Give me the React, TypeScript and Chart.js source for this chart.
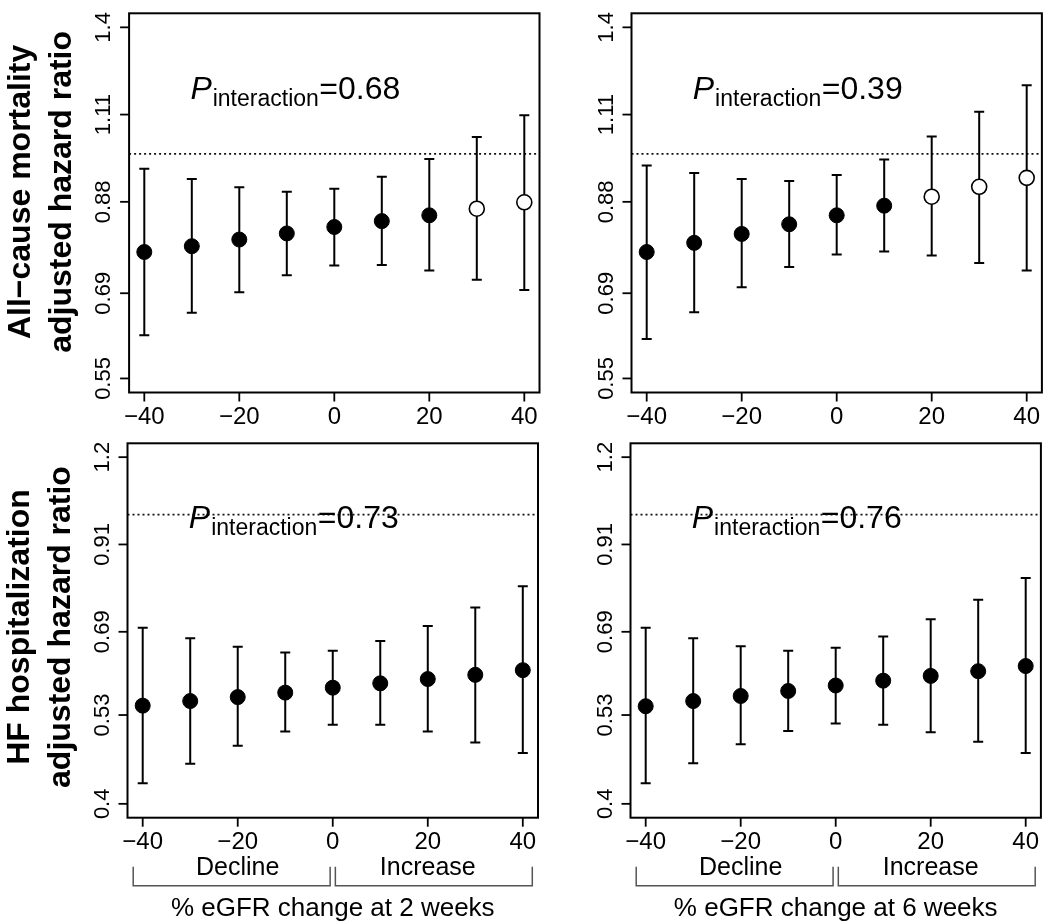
import React, { useEffect, useRef } from "react";
import { Chart, registerables } from "chart.js";

Chart.register(...registerables);

// ---------------- data ----------------
const xValues = [-40, -30, -20, -10, 0, 10, 20, 30, 40];
const xTickValues = [-40, -20, 0, 20, 40];
const xTickLabels = ["\u221240", "\u221220", "0", "20", "40"];
const xRange = [-40, 40];

const mortalityTickValues = [0.55, 0.69, 0.88, 1.11, 1.4];
const mortalityTickLabels = ["0.55", "0.69", "0.88", "1.11", "1.4"];
const mortalityRange = [0.55, 1.4];

const hfTickValues = [0.4, 0.53, 0.69, 0.91, 1.2];
const hfTickLabels = ["0.4", "0.53", "0.69", "0.91", "1.2"];
const hfRange = [0.4, 1.2];

// All-cause mortality, eGFR change at 2 weeks
const mort2wHR = [0.77, 0.782, 0.796, 0.809, 0.823, 0.836, 0.849, 0.864, 0.879];
const mort2wLo = [0.617, 0.655, 0.692, 0.724, 0.743, 0.744, 0.733, 0.715, 0.696];
const mort2wHi = [0.961, 0.935, 0.915, 0.904, 0.911, 0.941, 0.986, 1.046, 1.108];
const mort2wSignificant = [true, true, true, true, true, true, true, false, false];

// All-cause mortality, eGFR change at 6 weeks
const mort6wHR = [0.77, 0.789, 0.808, 0.829, 0.849, 0.871, 0.892, 0.916, 0.938];
const mort6wLo = [0.611, 0.656, 0.701, 0.74, 0.765, 0.771, 0.763, 0.748, 0.733];
const mort6wHi = [0.969, 0.95, 0.935, 0.93, 0.945, 0.985, 1.047, 1.118, 1.2];
const mort6wSignificant = [true, true, true, true, true, true, false, false, false];

// HF hospitalization, eGFR change at 2 weeks
const hf2wHR = [0.546, 0.554, 0.561, 0.569, 0.578, 0.586, 0.594, 0.602, 0.611];
const hf2wLo = [0.427, 0.454, 0.481, 0.503, 0.514, 0.514, 0.503, 0.486, 0.47];
const hf2wHi = [0.699, 0.676, 0.658, 0.646, 0.65, 0.67, 0.703, 0.745, 0.797];
const hf2wSignificant = [true, true, true, true, true, true, true, true, true];

// HF hospitalization, eGFR change at 6 weeks
const hf6wHR = [0.545, 0.554, 0.563, 0.572, 0.582, 0.591, 0.6, 0.609, 0.619];
const hf6wLo = [0.427, 0.455, 0.483, 0.504, 0.516, 0.514, 0.502, 0.487, 0.47];
const hf6wHi = [0.699, 0.676, 0.659, 0.65, 0.656, 0.68, 0.718, 0.764, 0.818];
const hf6wSignificant = [true, true, true, true, true, true, true, true, true];

const referenceHR = 1;
const pInteraction = ["0.68", "0.39", "0.73", "0.76"];
const groupLabels = ["Decline", "Increase"];
const groupCenters = [-20, 20];
const groupSpans = [
  [-42, -0.55],
  [0.55, 42],
];
const xTitles = ["% eGFR change at 2 weeks", "% eGFR change at 6 weeks"];
const mortalityTitle = ["All\u2212cause mortality", "adjusted hazard ratio"];
const hfTitle = ["HF hospitalization", "adjusted hazard ratio"];

// ---------------- helpers ----------------
const FONT = '"Liberation Sans", Arial, Helvetica, sans-serif';

function padLinear(r: number[]) {
  const d = (r[1] - r[0]) * 0.04;
  return [r[0] - d, r[1] + d];
}
function padLog(r: number[]) {
  const la = Math.log(r[0]);
  const lb = Math.log(r[1]);
  const d = (lb - la) * 0.04;
  return [Math.exp(la - d), Math.exp(lb + d)];
}

type Spec = {
  left: number;
  top: number;
  w: number;
  h: number;
  pad: { left: number; right: number; top: number; bottom: number };
  hr: number[];
  lo: number[];
  hi: number[];
  sig: boolean[];
  yTicks: number[];
  yTickLabels: string[];
  yRange: number[];
  yTitle: string[] | null;
  yTitleShift: number;
  p: string;
  pY: number;
  xTitle: string | null;
};

function text(
  ctx: CanvasRenderingContext2D,
  t: string,
  x: number,
  y: number,
  font: string,
  align: CanvasTextAlign
) {
  ctx.font = font;
  ctx.textAlign = align;
  ctx.textBaseline = "alphabetic";
  ctx.fillText(t, x, y);
}

function makePlugin(spec: Spec) {
  return {
    id: "forestDecor",
    beforeDatasetsDraw(chart: any) {
      const { ctx, chartArea: a, scales } = chart;
      const xs = scales.x;
      const ys = scales.y;
      ctx.save();
      // reference line at HR = 1
      const yr = ys.getPixelForValue(referenceHR);
      ctx.strokeStyle = "#111";
      ctx.lineWidth = 1.8;
      ctx.setLineDash([2, 3]);
      ctx.beginPath();
      ctx.moveTo(a.left, yr);
      ctx.lineTo(a.right, yr);
      ctx.stroke();
      ctx.setLineDash([]);
      // error bars
      ctx.strokeStyle = "#000";
      ctx.lineWidth = 2;
      xValues.forEach((xv, i) => {
        const px = xs.getPixelForValue(xv);
        const pl = ys.getPixelForValue(spec.lo[i]);
        const ph = ys.getPixelForValue(spec.hi[i]);
        ctx.beginPath();
        ctx.moveTo(px, pl);
        ctx.lineTo(px, ph);
        ctx.moveTo(px - 5, pl);
        ctx.lineTo(px + 5, pl);
        ctx.moveTo(px - 5, ph);
        ctx.lineTo(px + 5, ph);
        ctx.stroke();
      });
      ctx.restore();
    },
    afterDraw(chart: any) {
      const { ctx, chartArea: a, scales } = chart;
      const xs = scales.x;
      const ys = scales.y;
      ctx.save();
      ctx.fillStyle = "#000";
      ctx.strokeStyle = "#000";
      // box
      ctx.lineWidth = 2;
      ctx.strokeRect(a.left, a.top, a.right - a.left, a.bottom - a.top);
      // y ticks
      ctx.lineWidth = 1.8;
      spec.yTicks.forEach((v, i) => {
        const py = ys.getPixelForValue(v);
        ctx.beginPath();
        ctx.moveTo(a.left - 9, py);
        ctx.lineTo(a.left, py);
        ctx.stroke();
        ctx.save();
        ctx.translate(a.left - 19, py);
        ctx.rotate(-Math.PI / 2);
        text(ctx, spec.yTickLabels[i], 0, 0, `22px ${FONT}`, "center");
        ctx.restore();
      });
      // x ticks
      xTickValues.forEach((v, i) => {
        const px = xs.getPixelForValue(v);
        ctx.beginPath();
        ctx.moveTo(px, a.bottom);
        ctx.lineTo(px, a.bottom + 9);
        ctx.stroke();
        text(ctx, xTickLabels[i], px, a.bottom + 31.5, `24px ${FONT}`, "center");
      });
      // y title (two lines)
      if (spec.yTitle) {
        const cy = (a.top + a.bottom) / 2 + spec.yTitleShift;
        const baselines = [a.left - 99, a.left - 58];
        spec.yTitle.forEach((t, k) => {
          ctx.save();
          ctx.translate(baselines[k], cy);
          ctx.rotate(-Math.PI / 2);
          text(ctx, t, 0, 0, `bold 32px ${FONT}`, "center");
          ctx.restore();
        });
      }
      // P interaction
      {
        const px = xs.getPixelForValue(-30.3);
        const py = ys.getPixelForValue(spec.pY);
        ctx.save();
        ctx.translate(px, py);
        ctx.textAlign = "left";
        ctx.textBaseline = "alphabetic";
        ctx.font = `italic 32px ${FONT}`;
        ctx.fillText("P", 0, 0);
        let w = ctx.measureText("P").width + 1;
        ctx.font = `23px ${FONT}`;
        ctx.fillText("interaction", w, 7);
        w += ctx.measureText("interaction").width + 0.5;
        ctx.font = `32px ${FONT}`;
        ctx.fillText("=" + spec.p, w, 0);
        ctx.restore();
      }
      // brackets, group labels and x title
      if (spec.xTitle) {
        ctx.strokeStyle = "#555";
        ctx.lineWidth = 1.5;
        groupSpans.forEach(([s, e]) => {
          const x1 = xs.getPixelForValue(s);
          const x2 = xs.getPixelForValue(e);
          const yt = a.bottom + 49;
          const yb = a.bottom + 68;
          ctx.beginPath();
          ctx.moveTo(x1, yt);
          ctx.lineTo(x1, yb);
          ctx.lineTo(x2, yb);
          ctx.lineTo(x2, yt);
          ctx.stroke();
        });
        groupLabels.forEach((g, k) =>
          text(ctx, g, xs.getPixelForValue(groupCenters[k]), a.bottom + 57, `25px ${FONT}`, "center")
        );
        text(ctx, spec.xTitle, xs.getPixelForValue(0), a.bottom + 98, `26px ${FONT}`, "center");
      }
      ctx.restore();
    },
  };
}

const panels: Spec[] = [
  {
    left: 0,
    top: 0,
    w: 560,
    h: 432,
    pad: { left: 129.1, right: 20.5, top: 13.3, bottom: 39.5 },
    hr: mort2wHR,
    lo: mort2wLo,
    hi: mort2wHi,
    sig: mort2wSignificant,
    yTicks: mortalityTickValues,
    yTickLabels: mortalityTickLabels,
    yRange: mortalityRange,
    yTitle: mortalityTitle,
    yTitleShift: -11,
    p: pInteraction[0],
    pY: 1.156,
    xTitle: null,
  },
  {
    left: 560,
    top: 0,
    w: 490,
    h: 432,
    pad: { left: 71.5, right: 8.1, top: 13.3, bottom: 39.5 },
    hr: mort6wHR,
    lo: mort6wLo,
    hi: mort6wHi,
    sig: mort6wSignificant,
    yTicks: mortalityTickValues,
    yTickLabels: mortalityTickLabels,
    yRange: mortalityRange,
    yTitle: null,
    yTitleShift: 0,
    p: pInteraction[1],
    pY: 1.156,
    xTitle: null,
  },
  {
    left: 0,
    top: 432,
    w: 560,
    h: 492,
    pad: { left: 127.5, right: 22, top: 11.3, bottom: 106.3 },
    hr: hf2wHR,
    lo: hf2wLo,
    hi: hf2wHi,
    sig: hf2wSignificant,
    yTicks: hfTickValues,
    yTickLabels: hfTickLabels,
    yRange: hfRange,
    yTitle: hfTitle,
    yTitleShift: -3.5,
    p: pInteraction[2],
    pY: 0.959,
    xTitle: xTitles[0],
  },
  {
    left: 560,
    top: 432,
    w: 490,
    h: 492,
    pad: { left: 70.5, right: 9.1, top: 11.3, bottom: 106.3 },
    hr: hf6wHR,
    lo: hf6wLo,
    hi: hf6wHi,
    sig: hf6wSignificant,
    yTicks: hfTickValues,
    yTickLabels: hfTickLabels,
    yRange: hfRange,
    yTitle: null,
    yTitleShift: 0,
    p: pInteraction[3],
    pY: 0.959,
    xTitle: xTitles[1],
  },
];

function Panel({ spec }: { spec: Spec }) {
  const ref = useRef<HTMLCanvasElement>(null);
  useEffect(() => {
    const xr = padLinear(xRange);
    const yr = padLog(spec.yRange);
    const chart = new Chart(ref.current as HTMLCanvasElement, {
      type: "scatter",
      data: {
        datasets: [
          {
            data: xValues.map((x, i) => ({ x, y: spec.hr[i] })),
            pointRadius: 7.5,
            pointHoverRadius: 7.5,
            pointBackgroundColor: spec.sig.map((s) => (s ? "#000" : "#fff")),
            pointBorderColor: "#000",
            pointBorderWidth: spec.sig.map((s) => (s ? 1 : 1.6)),
          },
        ],
      },
      options: {
        responsive: false,
        animation: false,
        devicePixelRatio: 1,
        events: [],
        layout: { padding: spec.pad, autoPadding: false } as any,
        plugins: { legend: { display: false }, tooltip: { enabled: false } },
        scales: {
          x: { type: "linear", display: false, min: xr[0], max: xr[1] },
          y: { type: "logarithmic", display: false, min: yr[0], max: yr[1] },
        },
      },
      plugins: [makePlugin(spec)],
    });
    return () => chart.destroy();
  }, [spec]);
  return (
    <canvas
      ref={ref}
      width={spec.w}
      height={spec.h}
      style={{ position: "absolute", left: spec.left, top: spec.top }}
    />
  );
}

export default function App() {
  return (
    <div style={{ position: "absolute", left: 0, top: 0, width: 1050, height: 924, background: "#fff" }}>
      {panels.map((p, i) => (
        <Panel key={i} spec={p} />
      ))}
    </div>
  );
}
